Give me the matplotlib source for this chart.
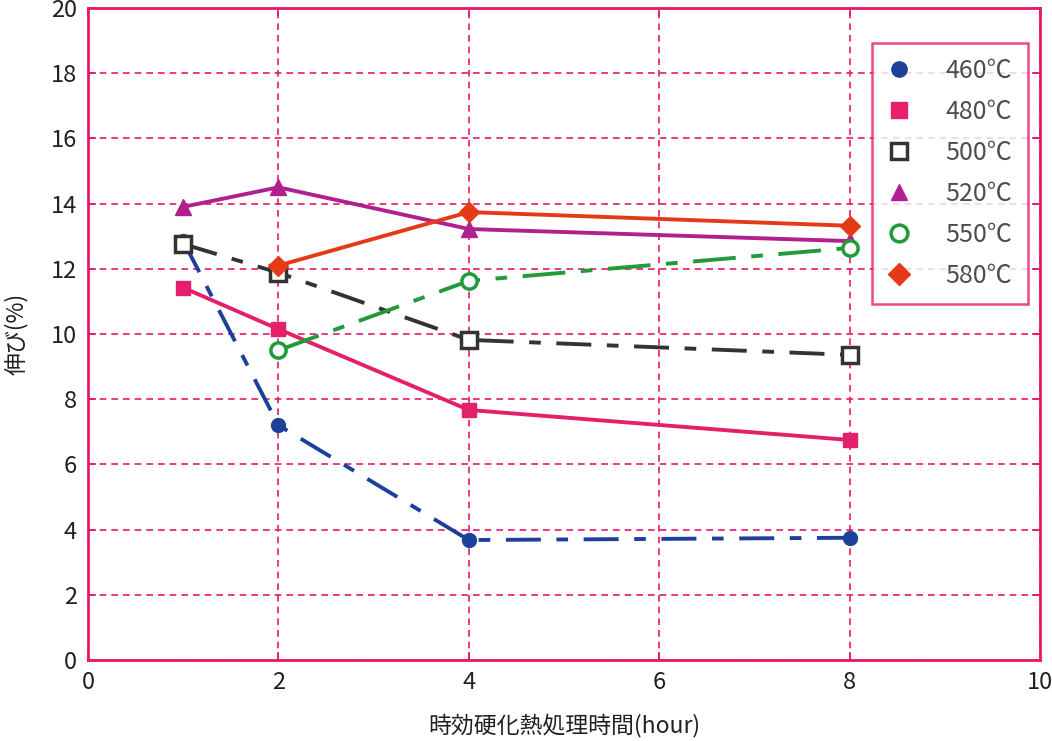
import matplotlib as mpl
mpl.use('Agg')
import matplotlib.pyplot as plt

plt.rcParams['font.family'] = ['Noto Sans CJK JP', 'DejaVu Sans']

hours_all = [1, 2, 4, 8]
hours_late = [2, 4, 8]

elong_460 = [12.85, 7.2, 3.68, 3.75]
elong_480 = [11.42, 10.15, 7.67, 6.75]
elong_500 = [12.76, 11.88, 9.82, 9.36]
elong_520 = [13.9, 14.5, 13.22, 12.85]
elong_550 = [9.5, 11.63, 12.64]
elong_580 = [12.1, 13.74, 13.32]

pink = '#e8196b'

fig = plt.figure(figsize=(10.52, 7.41), dpi=100)
ax = fig.add_axes([0.0837, 0.1093, 0.9049, 0.8799])

ax.plot(hours_all, elong_460, color='#1d409b', lw=2.8, dashes=[9, 4, 3, 4],
        marker='o', ms=10, label='460℃', zorder=3)
ax.plot(hours_all, elong_480, color='#e5206a', lw=2.8, marker='s', ms=10,
        label='480℃', zorder=3)
ax.plot(hours_all, elong_500, color='#333333', lw=2.8, dashes=[9, 4, 3, 4],
        marker='s', ms=11, mfc='white', mew=2.5, label='500℃', zorder=3)
ax.plot(hours_all, elong_520, color='#b0208e', lw=2.8, marker='^', ms=11,
        label='520℃', zorder=3)
ax.plot(hours_late, elong_550, color='#22993a', lw=2.8, dashes=[11, 4, 3, 4],
        marker='o', ms=11, mfc='white', mew=2.5, label='550℃', zorder=3)
ax.plot(hours_late, elong_580, color='#e53a17', lw=2.8, marker='D', ms=10,
        label='580℃', zorder=3)

ax.set_xlim(0, 10)
ax.set_ylim(0, 20)
ax.set_xticks([0, 2, 4, 6, 8, 10])
ax.set_yticks(range(0, 21, 2))
ax.grid(True, color=pink, ls=(0, (4, 3)), lw=1.2)
for s in ax.spines.values():
    s.set_color(pink)
    s.set_linewidth(2)
ax.tick_params(direction='in', colors=pink, labelcolor='#231f20', labelsize=17,
               length=6, width=1.2, top=True, right=True, pad=8)

ax.set_xlabel('時効硬化熱処理時間(hour)', fontsize=16.5, color='#231f20', labelpad=14)
ax.set_ylabel('伸び(%)', fontsize=16.5, color='#231f20', labelpad=16)

leg = ax.legend(loc='upper right', bbox_to_anchor=(0.987, 0.946), fontsize=18,
                frameon=True, fancybox=False, borderpad=0.6, labelspacing=0.6,
                handletextpad=1.4, handlelength=0.95, borderaxespad=0,
                markerscale=1.1)
leg.get_frame().set_edgecolor(pink)
leg.get_frame().set_linewidth(1.8)
for h in leg.get_lines():
    h.set_linestyle('none')
for t in leg.get_texts():
    t.set_color('#4d4d4d')

fig.savefig('out.png', dpi=100)
